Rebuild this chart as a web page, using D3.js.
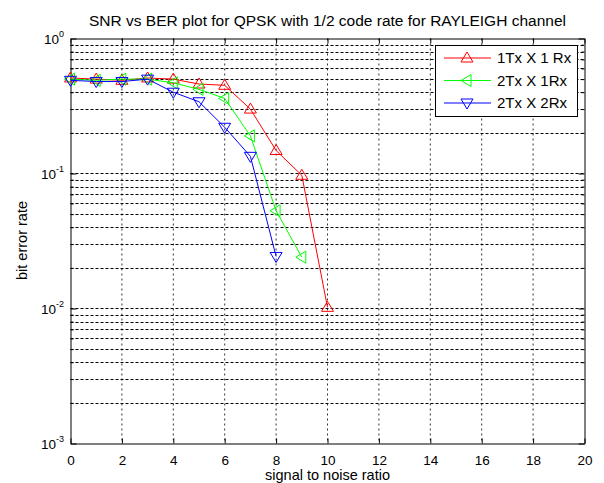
<html>
<script src='https://d3js.org/d3.v7.min.js'></script>
<body style="margin:0; background:#fff;">
<svg width=604 height=483></svg>
<script>

var snr = [0,1,2,3,4,5,6,7,8,9,10];
var ber1x1 = [0.51, 0.50, 0.49, 0.51, 0.50, 0.46, 0.45, 0.30, 0.148, 0.097, 0.0102];
var ber2x1 = [0.50, 0.49, 0.50, 0.50, 0.47, 0.42, 0.36, 0.19, 0.053, 0.024];
var ber2x2 = [0.49, 0.48, 0.48, 0.50, 0.40, 0.34, 0.22, 0.134, 0.0243];
var seriesNames = ["1Tx X 1 Rx", "2Tx X 1Rx", "2Tx X 2Rx"];
var xTicks = [0,2,4,6,8,10,12,14,16,18,20];
var yDecades = [-3,-2,-1,0];

var series = [
  {name: seriesNames[0], values: ber1x1, color: "#ff0000", marker: "up"},
  {name: seriesNames[1], values: ber2x1, color: "#00ff00", marker: "left"},
  {name: seriesNames[2], values: ber2x2, color: "#0000ff", marker: "down"}
];

var svg = d3.select('svg');
var font = "Liberation Sans, Arial, sans-serif";

var x = d3.scaleLinear().domain([0,20]).range([70.5, 584.5]);
var y = d3.scaleLog().domain([1e-3, 1]).range([443.5, 38.5]);

// minor values for log grid
var minor = [];
yDecades.slice(0,3).forEach(function(e) {
  for (var k = 2; k <= 9; k++) minor.push(k * Math.pow(10, e));
});
var majors = yDecades.map(function(e){ return Math.pow(10, e); });

// grid
var grid = svg.append("g");
grid.selectAll(".vg").data(xTicks.slice(1, -1)).join("line")
  .attr("x1", d => x(d)).attr("x2", d => x(d))
  .attr("y1", y(1)).attr("y2", y(1e-3))
  .attr("stroke", "#333").attr("stroke-dasharray", "2,3");
grid.selectAll(".hg").data(minor.concat(majors.slice(1,3))).join("line")
  .attr("x1", x(0)).attr("x2", x(20))
  .attr("y1", d => Math.round(y(d)) + 0.5).attr("y2", d => Math.round(y(d)) + 0.5)
  .attr("stroke", "#000").attr("stroke-dasharray", "3,2");

// axes (ticks inward on all sides)
svg.append("g").attr("transform", "translate(0,443.5)")
  .call(d3.axisBottom(x).tickValues(xTicks).tickSizeInner(-5).tickSizeOuter(0).tickPadding(12))
  .call(g => g.selectAll("text").attr("font-size", 13.5).attr("font-family", font).attr("fill", "#000"));
svg.append("g").attr("transform", "translate(0,38.5)")
  .call(d3.axisTop(x).tickValues(xTicks).tickSizeInner(-5).tickSizeOuter(0).tickFormat(""));
svg.append("g").attr("transform", "translate(70.5,0)")
  .call(d3.axisLeft(y).tickValues(majors).tickSizeInner(-6).tickSizeOuter(0).tickFormat(""));
svg.append("g").attr("transform", "translate(70.5,0)")
  .call(d3.axisLeft(y).tickValues(minor).tickSizeInner(-3).tickSizeOuter(0).tickFormat(""))
  .call(g => g.select(".domain").remove());
svg.append("g").attr("transform", "translate(584.5,0)")
  .call(d3.axisRight(y).tickValues(majors).tickSizeInner(-6).tickSizeOuter(0).tickFormat(""));
svg.append("g").attr("transform", "translate(584.5,0)")
  .call(d3.axisRight(y).tickValues(minor).tickSizeInner(-3).tickSizeOuter(0).tickFormat(""))
  .call(g => g.select(".domain").remove());
svg.selectAll(".domain").attr("stroke", "#000");
svg.selectAll(".tick line").attr("stroke", "#000");

// y tick labels 10^n
var yl = svg.append("g").selectAll("text").data(yDecades).join("text")
  .attr("x", 64).attr("y", d => y(Math.pow(10, d)) + 5)
  .attr("text-anchor", "end").attr("font-family", font).attr("font-size", 13.5);
yl.append("tspan").text("10");
yl.append("tspan").attr("dy", -7).attr("font-size", 9).text(d => d);

// lines + markers
var line = d3.line().x((d, i) => x(snr[i])).y(d => y(d));

function tri(kind) {
  if (kind == "up") return "M0,-6L6,4L-6,4Z";
  if (kind == "down") return "M0,6L6,-4L-6,-4Z";
  return "M-6,0L4,-6L4,6Z";
}

series.forEach(function(s) {
  svg.append("path").attr("d", line(s.values))
    .attr("fill", "none").attr("stroke", s.color).attr("stroke-width", 1);
  svg.append("g").selectAll("path").data(s.values).join("path")
    .attr("transform", (d, i) => "translate(" + x(snr[i]) + "," + y(d) + ")")
    .attr("d", tri(s.marker))
    .attr("fill", "none").attr("stroke", s.color).attr("stroke-width", 1);
});

// legend
var lg = svg.append("g");
lg.append("rect").attr("x", 435.5).attr("y", 45.5).attr("width", 142).attr("height", 71)
  .attr("fill", "#fff").attr("stroke", "#000");
series.forEach(function(s, i) {
  var ly = 58 + i * 22.5;
  lg.append("line").attr("x1", 444).attr("x2", 491).attr("y1", ly).attr("y2", ly)
    .attr("stroke", s.color);
  lg.append("path").attr("transform", "translate(467," + ly + ")").attr("d", tri(s.marker))
    .attr("fill", "none").attr("stroke", s.color);
  lg.append("text").attr("x", 497).attr("y", ly + 5).attr("font-family", font)
    .attr("font-size", 15).text(s.name);
});

// titles
svg.append("text").attr("x", 327.5).attr("y", 26).attr("text-anchor", "middle")
  .attr("font-family", font).attr("font-size", 15.5)
  .text("SNR vs BER plot for QPSK with 1/2 code rate for RAYLEIGH channel");
svg.append("text").attr("x", 327.5).attr("y", 480).attr("text-anchor", "middle")
  .attr("font-family", font).attr("font-size", 14.5).text("signal to noise ratio");
svg.append("text").attr("transform", "translate(27,240.5) rotate(-90)").attr("text-anchor", "middle")
  .attr("font-family", font).attr("font-size", 14.5).text("bit error rate");
</script>
</body>
</html>
